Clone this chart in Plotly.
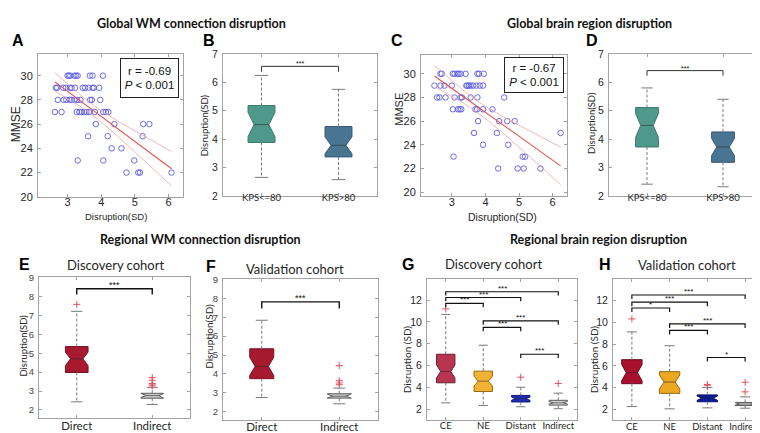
import numpy as np
import plotly.graph_objects as go

W, H = 760, 433

# ---------------- data ----------------
# Panel A: MMSE vs global WM connection disruption
a_disruption = [3.00, 3.04, 3.08, 3.20, 3.25, 3.30, 3.66, 3.74, 4.05,
                2.65, 2.69, 2.87, 2.95, 3.07, 3.12, 3.22, 3.45, 3.52, 3.62, 3.74, 3.78, 3.94,
                2.71, 2.88, 2.96, 3.06, 3.12, 3.20, 3.28, 3.38, 3.67, 3.72, 3.97,
                2.62, 2.82, 3.27, 3.35, 3.42, 3.50, 3.56, 3.64, 3.81, 4.06, 4.14, 4.21,
                3.84, 4.39, 5.25, 5.43,
                3.61, 4.19, 5.23,
                4.31, 4.60,
                3.30, 4.06, 4.98,
                4.75, 5.10, 5.15, 6.09]
a_mmse = [30, 30, 30, 30, 30, 30, 30, 30, 30,
          29, 29, 29, 29, 29, 29, 29, 29, 29, 29, 29, 29, 29,
          28, 28, 28, 28, 28, 28, 28, 28, 28, 28, 28,
          27, 27, 27, 27, 27, 27, 27, 27, 27, 27, 27, 27,
          26, 26, 26, 26,
          25, 25, 25,
          24, 24,
          23, 23, 23,
          22, 22, 22, 22]
a_stats = "r = -0.69<br><i>P</i> < 0.001"

# Panel C: MMSE vs global brain region disruption
c_disruption = [2.66, 2.70, 3.03, 3.08, 3.16, 3.20, 3.26, 3.41, 3.76, 3.81, 3.95,
                2.48, 2.66, 2.78, 3.00, 3.43, 3.46, 3.51, 3.56, 3.63, 3.73, 3.83, 3.93,
                2.56, 2.63, 2.81, 3.08, 3.26, 3.30, 3.56, 3.76, 4.56,
                3.03, 3.18, 3.23, 3.28, 3.70, 3.75, 3.93, 4.21,
                3.78, 4.41, 4.65, 4.87,
                3.66, 4.34, 6.24,
                3.93, 4.68,
                3.05, 5.11, 5.18,
                4.38, 4.96, 5.14, 5.64]
c_mmse = [30, 30, 30, 30, 30, 30, 30, 30, 30, 30, 30,
          29, 29, 29, 29, 29, 29, 29, 29, 29, 29, 29, 29,
          28, 28, 28, 28, 28, 28, 28, 28, 28,
          27, 27, 27, 27, 27, 27, 27, 27,
          26, 26, 26, 26,
          25, 25, 25,
          24, 24,
          23, 23, 23,
          22, 22, 22, 22]
c_stats = "r = -0.67<br><i>P</i> < 0.001"

# Panel B: global WM connection disruption by KPS
b_cats = ["KPS<=80", "KPS>80"]
b_q1 = [3.88, 3.37]
b_med = [4.51, 3.78]
b_q3 = [5.18, 4.44]
b_lo = [2.65, 2.57]
b_hi = [6.24, 5.75]
b_notch = [0.43, 0.30]
b_out = [[], []]
b_sig_pairs = [(1, 2)]
b_sig_y = [6.56]
b_sig_lab = ["***"]

# Panel D: global brain region disruption by KPS
d_cats = ["KPS<=80", "KPS>80"]
d_q1 = [3.72, 3.18]
d_med = [4.48, 3.72]
d_q3 = [5.11, 4.25]
d_lo = [2.41, 2.32]
d_hi = [5.80, 5.40]
d_notch = [0.42, 0.30]
d_out = [[], []]
d_sig_pairs = [(1, 2)]
d_sig_y = [6.41]
d_sig_lab = ["***"]

# Panel E: regional WM connection disruption, discovery cohort
e_cats = ["Direct", "Indirect"]
e_q1 = [3.98, 2.62]
e_med = [4.70, 2.76]
e_q3 = [5.35, 2.88]
e_lo = [2.43, 2.29]
e_hi = [7.21, 3.18]
e_notch = [0.36, 0.10]
e_out = [[7.58], [3.27, 3.32, 3.40, 3.57, 3.71]]
e_sig_pairs = [(1, 2)]
e_sig_y = [8.40]
e_sig_lab = ["***"]

# Panel F: regional WM connection disruption, validation cohort
f_cats = ["Direct", "Indirect"]
f_q1 = [3.75, 2.72]
f_med = [4.40, 2.82]
f_q3 = [5.33, 2.95]
f_lo = [2.75, 2.42]
f_hi = [6.84, 3.25]
f_notch = [0.48, 0.12]
f_out = [[], [3.43, 3.52, 3.64, 4.44]]
f_sig_pairs = [(1, 2)]
f_sig_y = [7.81]
f_sig_lab = ["***"]

# Panel G: regional brain region disruption, discovery cohort
g_cats = ["CE", "NE", "Distant", "Indirect"]
g_q1 = [4.41, 3.61, 2.65, 2.36]
g_med = [5.45, 4.56, 2.95, 2.57]
g_q3 = [7.03, 5.48, 3.25, 2.80]
g_lo = [2.57, 2.33, 2.21, 2.03]
g_hi = [10.69, 7.86, 4.00, 3.46]
g_notch = [0.60, 0.45, 0.15, 0.12]
g_out = [[11.2], [], [4.92], [4.35]]
g_sig_pairs = [(1, 4), (1, 3), (1, 2), (2, 4), (2, 3), (3, 4)]
g_sig_y = [12.77, 12.24, 11.70, 10.10, 9.50, 7.03]
g_sig_lab = ["***", "***", "***", "***", "***", "***"]

# Panel H: regional brain region disruption, validation cohort
h_cats = ["CE", "NE", "Distant", "Indirect"]
h_q1 = [4.37, 3.48, 2.71, 2.36]
h_med = [5.38, 4.52, 3.04, 2.50]
h_q3 = [6.57, 5.47, 3.34, 2.65]
h_lo = [2.27, 2.06, 2.15, 2.12]
h_hi = [9.12, 7.85, 4.02, 3.16]
h_notch = [0.75, 0.65, 0.20, 0.10]
h_out = [[10.31], [], [4.22, 4.30], [3.62, 4.50]]
h_sig_pairs = [(1, 4), (1, 3), (1, 2), (2, 4), (2, 3), (3, 4)]
h_sig_y = [12.50, 11.85, 11.31, 9.85, 9.26, 6.77]
h_sig_lab = ["***", "***", "*", "***", "***", "*"]

# ---------------- styling ----------------
TICK_FONT = "Liberation Sans"
CAT_FONT = "Lato"
FRAME = "#a3a3a3"
TXT = "#262626"

fig = go.Figure()
annotations = []


def px_x(px):
    return px / W


def px_y(py):
    return 1 - py / H


def names(k):
    return ("x" if k == 1 else f"x{k}"), ("y" if k == 1 else f"y{k}")


def set_axes(k, xdom, ydom, xrange, yrange, xticks, yticks, xticktext=None,
             xfont=None, yfont=None, xstandoff=-8, ystandoff=2):
    xa = "xaxis" if k == 1 else f"xaxis{k}"
    ya = "yaxis" if k == 1 else f"yaxis{k}"
    xn, yn = names(k)
    common = dict(showline=True, linecolor=FRAME, linewidth=1, mirror="ticks",
                  ticks="inside", ticklen=3, tickcolor=FRAME, tickwidth=1,
                  showgrid=False, zeroline=False, fixedrange=True,
                  ticklabeloverflow="allow")
    xd = dict(common, domain=[px_x(xdom[0]), px_x(xdom[1])], anchor=yn,
              range=xrange, tickvals=xticks, tickfont=xfont,
              ticklabelstandoff=xstandoff)
    if xticktext is not None:
        xd["ticktext"] = xticktext
    yd = dict(common, domain=[px_y(ydom[1]), px_y(ydom[0])], anchor=xn,
              range=yrange, tickvals=yticks, tickfont=yfont,
              ticklabelstandoff=ystandoff)
    fig.layout[xa] = xd
    fig.layout[ya] = yd


def ann(text, x, y, size, family, color=TXT, bold=False, angle=0):
    if bold:
        text = f"<b>{text}</b>"
    annotations.append(dict(text=text, x=px_x(x), y=px_y(y), xref="paper", yref="paper",
                            xanchor="center", yanchor="middle", showarrow=False,
                            textangle=angle, font=dict(size=size, family=family, color=color)))


def scatter_panel(k, xs, ys, stats_text, box_px):
    xn, yn = names(k)
    x = np.asarray(xs, float)
    y = np.asarray(ys, float)
    fig.add_trace(go.Scatter(x=x, y=y, mode="markers", xaxis=xn, yaxis=yn,
                             marker=dict(symbol="circle-open", size=5.5, color="#5a5ae6",
                                         line=dict(width=0.9, color="#5a5ae6")),
                             showlegend=False, hoverinfo="skip"))
    n = len(x)
    slope, icpt = np.polyfit(x, y, 1)
    xl = np.linspace(x.min(), x.max(), 60)
    yl = icpt + slope * xl
    resid = y - (icpt + slope * x)
    s = np.sqrt(np.sum(resid ** 2) / (n - 2))
    se = s * np.sqrt(1.0 / n + (xl - x.mean()) ** 2 / np.sum((x - x.mean()) ** 2))
    t = 2.0
    for yy, col, wd in [(yl + t * se, "#f3a3a3", 0.8), (yl - t * se, "#f3a3a3", 0.8), (yl, "#e4534f", 1.1)]:
        fig.add_trace(go.Scatter(x=xl, y=yy, mode="lines", xaxis=xn, yaxis=yn,
                                 line=dict(color=col, width=wd), showlegend=False, hoverinfo="skip"))
    x0, y0, x1, y1 = box_px
    annotations.append(dict(text=stats_text, x=px_x((x0 + x1) / 2), y=px_y((y0 + y1) / 2),
                            xref="paper", yref="paper", xanchor="center", yanchor="middle",
                            showarrow=False, width=x1 - x0 - 4, height=y1 - y0 - 4,
                            bordercolor="#222", borderwidth=1, borderpad=1, bgcolor="white",
                            align="center",
                            font=dict(size=11.5, family=TICK_FONT, color="#111")))


def box_panel(k, q1, med, q3, lo, hi, notch, outs, fills, edges, hw,
              sig_pairs, sig_y, sig_lab, sig_drop, sig_color, sig_width, sig_size, sig_shift,
              nfrac=0.55):
    xn, yn = names(k)
    pos = list(range(1, len(q1) + 1))
    wx, wy, cx, cy, mx, my, ox, oy = [], [], [], [], [], [], [], []
    for i, p in enumerate(pos):
        wn = hw * nfrac
        nlo = max(q1[i], med[i] - notch[i])
        nhi = min(q3[i], med[i] + notch[i])
        px = [p - hw, p - hw, p - wn, p - hw, p - hw, p + hw, p + hw, p + wn, p + hw, p + hw, p - hw]
        py = [q1[i], nlo, med[i], nhi, q3[i], q3[i], nhi, med[i], nlo, q1[i], q1[i]]
        fig.add_trace(go.Scatter(x=px, y=py, mode="lines", fill="toself", fillcolor=fills[i],
                                 line=dict(color=edges[i], width=1), xaxis=xn, yaxis=yn,
                                 showlegend=False, hoverinfo="skip"))
        wx += [p, p, None, p, p, None]
        wy += [q3[i], hi[i], None, q1[i], lo[i], None]
        cx += [p - hw / 2, p + hw / 2, None, p - hw / 2, p + hw / 2, None]
        cy += [hi[i], hi[i], None, lo[i], lo[i], None]
        mx += [p - wn, p + wn, None]
        my += [med[i], med[i], None]
        for o in outs[i]:
            ox.append(p)
            oy.append(o)
    fig.add_trace(go.Scatter(x=wx, y=wy, mode="lines", line=dict(color="#7a7a7a", width=1, dash="3px,2px"),
                             xaxis=xn, yaxis=yn, showlegend=False, hoverinfo="skip"))
    fig.add_trace(go.Scatter(x=cx, y=cy, mode="lines", line=dict(color="#7a7a7a", width=1),
                             xaxis=xn, yaxis=yn, showlegend=False, hoverinfo="skip"))
    fig.add_trace(go.Scatter(x=mx, y=my, mode="lines", line=dict(color="rgba(40,40,40,0.55)", width=1),
                             xaxis=xn, yaxis=yn, showlegend=False, hoverinfo="skip"))
    if ox:
        fig.add_trace(go.Scatter(x=ox, y=oy, mode="markers", xaxis=xn, yaxis=yn,
                                 marker=dict(symbol="cross-thin", size=5, color="#e5505e",
                                             line=dict(width=1, color="#e5505e")),
                                 showlegend=False, hoverinfo="skip"))
    bx, by = [], []
    for (a, b), yv, lab in zip(sig_pairs, sig_y, sig_lab):
        bx += [a, a, b, b, None]
        by += [yv - sig_drop, yv, yv, yv - sig_drop, None]
        annotations.append(dict(text=lab, x=(a + b) / 2, y=yv, xref=xn, yref=yn,
                                xanchor="center", yanchor="bottom", yshift=sig_shift,
                                showarrow=False, font=dict(size=sig_size, family=TICK_FONT, color="#111")))
    fig.add_trace(go.Scatter(x=bx, y=by, mode="lines", line=dict(color=sig_color, width=sig_width),
                             xaxis=xn, yaxis=yn, showlegend=False, hoverinfo="skip"))


# ---------------- panel A ----------------
scatter_panel(1, a_disruption, a_mmse, a_stats, (112, 46, 171, 86))
set_axes(1, (30, 175), (41, 188), [2.12, 6.43], [20, 31.8], [3, 4, 5, 6], [20, 22, 24, 26, 28, 30],
         xfont=dict(family=TICK_FONT, size=11, color=TXT), yfont=dict(family=TICK_FONT, size=11, color=TXT),
         xstandoff=-5)

# ---------------- panel B ----------------
teal = ["#4f998c", "#4a7592"]
teal_e = ["#3c7a6f", "#375a73"]
box_panel(2, b_q1, b_med, b_q3, b_lo, b_hi, b_notch, b_out, teal, teal_e, 0.175,
          b_sig_pairs, b_sig_y, b_sig_lab, 0.19, "#333", 1, 7, -3)
set_axes(2, (215, 369), (41, 187), [0.5, 2.5], [2, 7], [1, 2], [2, 3, 4, 5, 6, 7], xticktext=b_cats,
         xfont=dict(family=CAT_FONT, size=9.5, color=TXT), yfont=dict(family=TICK_FONT, size=10.5, color=TXT),
         xstandoff=-7)

# ---------------- panel C ----------------
scatter_panel(3, c_disruption, c_mmse, c_stats, (496, 45, 556, 81))
set_axes(3, (413, 559), (42, 187.5), [2.08, 6.43], [19.65, 31.6], [3, 4, 5, 6], [20, 22, 24, 26, 28, 30],
         xfont=dict(family=TICK_FONT, size=11, color=TXT), yfont=dict(family=TICK_FONT, size=11, color=TXT),
         xstandoff=-5)

# ---------------- panel D ----------------
box_panel(4, d_q1, d_med, d_q3, d_lo, d_hi, d_notch, d_out, teal, teal_e, 0.15,
          d_sig_pairs, d_sig_y, d_sig_lab, 0.18, "#333", 1, 7, -3)
set_axes(4, (601, 753), (41, 187), [0.5, 2.5], [2, 7], [1, 2], [2, 3, 4, 5, 6, 7], xticktext=d_cats,
         xfont=dict(family=CAT_FONT, size=9.5, color=TXT), yfont=dict(family=TICK_FONT, size=10.5, color=TXT),
         xstandoff=-7)

# ---------------- panel E ----------------
ef_fill = ["#a6192e", "#c8c8c8"]
ef_edge = ["#7a1222", "#5a5a5a"]
box_panel(5, e_q1, e_med, e_q3, e_lo, e_hi, e_notch, e_out, ef_fill, ef_edge, 0.15,
          e_sig_pairs, e_sig_y, e_sig_lab, 0.3, "#111", 1.4, 9, -3)
set_axes(5, (31, 182), (270, 416), [0.5, 2.5], [1.55, 9.05], [1, 2], [2, 3, 4, 5, 6, 7, 8, 9], xticktext=e_cats,
         xfont=dict(family=CAT_FONT, size=11.5, color=TXT), yfont=dict(family=TICK_FONT, size=9.5, color="#444"),
         xstandoff=-3)

# ---------------- panel F ----------------
box_panel(6, f_q1, f_med, f_q3, f_lo, f_hi, f_notch, f_out, ef_fill, ef_edge, 0.155,
          f_sig_pairs, f_sig_y, f_sig_lab, 0.35, "#111", 1.4, 9, -3)
set_axes(6, (215, 370), (273, 418), [0.5, 2.5], [1.54, 9.0], [1, 2], [2, 3, 4, 5, 6, 7, 8, 9], xticktext=f_cats,
         xfont=dict(family=CAT_FONT, size=11.5, color=TXT), yfont=dict(family=TICK_FONT, size=9.5, color="#444"),
         xstandoff=-4)

# ---------------- panel G ----------------
g_fill = ["#b8354f", "#f2b233", "#1f2fb5", "#cfcfcf"]
g_edge = ["#6e1c2c", "#9a6a10", "#0f1870", "#5a5a5a"]
box_panel(7, g_q1, g_med, g_q3, g_lo, g_hi, g_notch, g_out, g_fill, g_edge, 0.245,
          g_sig_pairs, g_sig_y, g_sig_lab, 0.35, "#111", 1.2, 8, -3)
set_axes(7, (419, 569), (273, 417.5), [0.5, 4.5], [1.0, 13.9], [1, 2, 3, 4], [2, 4, 6, 8, 10, 12], xticktext=g_cats,
         xfont=dict(family=CAT_FONT, size=9.5, color=TXT), yfont=dict(family=TICK_FONT, size=10.5, color=TXT),
         xstandoff=-3)

# ---------------- panel H ----------------
h_fill = ["#a8102e", "#eba820", "#0c1a9e", "#cfcfcf"]
h_edge = ["#6a0a1e", "#98690c", "#080f60", "#5a5a5a"]
box_panel(8, h_q1, h_med, h_q3, h_lo, h_hi, h_notch, h_out, h_fill, h_edge, 0.27,
          h_sig_pairs, h_sig_y, h_sig_lab, 0.37, "#111", 1.2, 8, -3)
set_axes(8, (605, 756), (273, 418), [0.5, 4.5], [1.0, 13.93], [1, 2, 3, 4], [2, 4, 6, 8, 10, 12], xticktext=h_cats,
         xfont=dict(family=CAT_FONT, size=9.5, color=TXT), yfont=dict(family=TICK_FONT, size=10.5, color=TXT),
         xstandoff=-3)

# ---------------- text ----------------
ann("Global WM connection disruption", 183, 10, 12.5, CAT_FONT, color="#111", bold=True)
ann("Global brain region disruption", 581.5, 10, 12.5, CAT_FONT, color="#111", bold=True)
ann("Regional WM connection disruption", 192.5, 232, 12.5, CAT_FONT, color="#111", bold=True)
ann("Regional brain region disruption", 590, 232, 12.5, CAT_FONT, color="#111", bold=True)

for lab, x, y in [("A", 9.5, 27), ("B", 201, 27), ("C", 388.5, 27), ("D", 584, 27),
                  ("E", 16.7, 258), ("F", 203, 260), ("G", 400.5, 258), ("H", 596.7, 258)]:
    ann(lab, x, y, 16, TICK_FONT, color="#000", bold=True)

ann("Discovery cohort", 107.5, 258, 13, CAT_FONT)
ann("Validation cohort", 286.5, 262, 13, CAT_FONT)
ann("Discovery cohort", 485.8, 257, 13, CAT_FONT)
ann("Validation cohort", 679, 258, 13, CAT_FONT)

ann("MMSE", 7.5, 114, 12, TICK_FONT, angle=-90)
ann("Disruption(SD)", 108, 208, 9.5, TICK_FONT)
ann("MMSE", 391.5, 98, 11, TICK_FONT, angle=-90)
ann("Disruption(SD)", 494, 208.5, 10.5, TICK_FONT)
ann("Disruption(SD)", 196, 114.5, 9.5, CAT_FONT, angle=-90)
ann("Disruption(SD)", 584, 112, 9.5, CAT_FONT, angle=-90)
ann("Disruption(SD)", 16, 341, 9.5, CAT_FONT, angle=-90)
ann("Disruption(SD)", 201, 332, 10, CAT_FONT, angle=-90)
ann("Disruption (SD)", 399, 356, 10, CAT_FONT, angle=-90)
ann("Disruption (SD)", 586, 356, 10, CAT_FONT, angle=-90)

fig.update_layout(width=W, height=H, margin=dict(l=0, r=0, t=0, b=0),
                  paper_bgcolor="white", plot_bgcolor="white",
                  annotations=annotations, showlegend=False)

fig.write_html("out.html")
